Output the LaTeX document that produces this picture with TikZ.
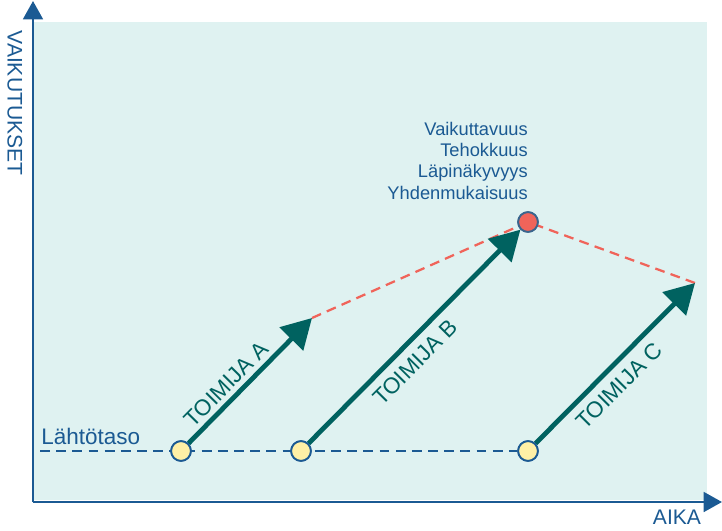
\documentclass[tikz,border=0pt]{standalone}
\usepackage{fontspec}
\setmainfont{Liberation Sans}
\usepackage{tikz}
\usetikzlibrary{arrows.meta}

\definecolor{bgteal}{HTML}{DFF2F1}
\definecolor{axisblue}{HTML}{1B5A93}
\definecolor{actorteal}{HTML}{006260}
\definecolor{goalred}{HTML}{F0645A}
\definecolor{startyellow}{HTML}{FFF0A6}

\begin{document}
\begin{tikzpicture}[
  x=0.025cm, y=-0.025cm,
  axis/.style={draw=axisblue, line width=1.8pt, -{Triangle[length=13pt,width=14pt]}},
  baseline/.style={draw=axisblue, line width=1.6pt, dash pattern=on 7pt off 4.5pt},
  target/.style={draw=goalred, line width=1.6pt, dash pattern=on 7pt off 4.5pt},
  actor/.style={draw=actorteal, line width=3.4pt, -{Triangle[length=21pt,width=23pt]}},
  actorlabel/.style={text=actorteal, font=\fontsize{16}{18}\selectfont, sloped, inner sep=0pt},
  startdot/.style={circle, draw=axisblue, line width=1.3pt, fill=startyellow, minimum size=14pt, inner sep=0pt},
  goaldot/.style={circle, draw=axisblue!70!gray, line width=1.3pt, fill=goalred, minimum size=14pt, inner sep=0pt},
  axislabel/.style={text=axisblue, font=\fontsize{15}{17}\selectfont, inner sep=0pt},
]
  \useasboundingbox (0,0) rectangle (722,531);

  % Background area
  \fill[bgteal] (34,22) rectangle (707,500);

  % Axes
  \coordinate (origin) at (33,502);
  \coordinate (ytop) at (33,1);
  \coordinate (xend) at (722,502);
  \draw[axis] (origin) -- (ytop);
  \draw[axis] (origin) -- (xend);
  \node (ylabel) [axislabel, rotate=-90] at (15,103) {VAIKUTUKSET};
  \node (xlabel) [axislabel] at (677,517) {AIKA};

  % Starting level
  \coordinate (levelstart) at (40,451);
  \node (levellabel) [axislabel, anchor=base west, font=\fontsize{16}{18}\selectfont] at (41,444) {Lähtötaso};
  \node (a0) [startdot] at (181,451) {};
  \node (b0) [startdot] at (301,451) {};
  \node (c0) [startdot] at (528,451) {};

  % Goal and its qualities
  \node (goal) [goaldot] at (528,222) {};
  \node (goals) [axislabel, anchor=base east, align=right,
    font=\fontsize{13}{15}\selectfont] at (528,199)
    {Vaikuttavuus\\Tehokkuus\\Läpinäkyvyys\\Yhdenmukaisuus};

  % Arrow end points
  \coordinate (a1) at (312,318);
  \coordinate (c1) at (695,283);

  \draw[target] (a1) -- (goal.center) -- (c1);
  \draw[baseline] (levelstart) -- (c0);

  % Actors
  \draw[actor] (a0) -- (a1) node[actorlabel, pos=0.39, above=3pt] {TOIMIJA A};
  \draw[actor] (b0) -- (goal) node[actorlabel, pos=0.44, below=6pt] {TOIMIJA B};
  \draw[actor] (c0) -- (c1) node[actorlabel, pos=0.44, below=6pt] {TOIMIJA C};

  % Dots on top
  \foreach \n in {a0,b0,c0} {
    \node[startdot] at (\n) {};
  }
  \node[goaldot] at (goal) {};
\end{tikzpicture}
\end{document}
